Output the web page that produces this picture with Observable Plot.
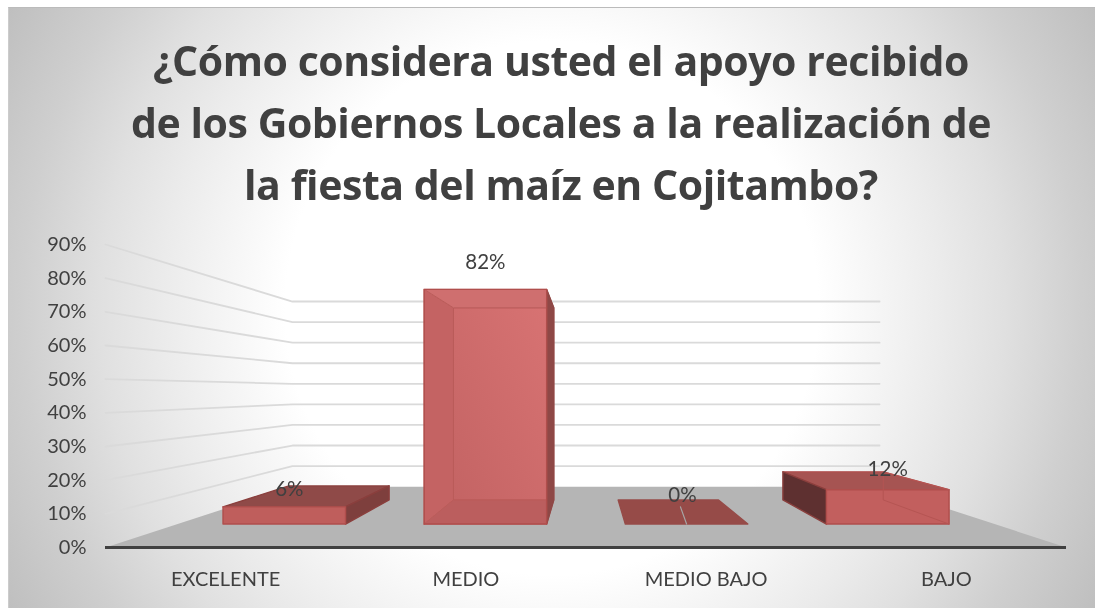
<!DOCTYPE html>
<html>
<head>
<meta charset="utf-8">
<script src="https://cdn.jsdelivr.net/npm/d3@7"></script>
<script src="https://cdn.jsdelivr.net/npm/@observablehq/plot@0.6"></script>
<style>
html,body{margin:0;padding:0;background:#fff;}
#chart{position:absolute;left:8px;top:7px;width:1087px;height:601px;box-sizing:border-box;border-top:1px solid #bbb;border-left:1px solid #ccc;
  background:radial-gradient(circle 620px at 50% 50%,#fff 43%,#ebebeb 63%,#e0e0e0 73%,#cfcfcf 85.5%,#bfbfbf 100%);overflow:hidden;}
#title{position:absolute;left:2px;top:21px;width:1100px;text-align:center;font:700 41px/62px "Open Sans",sans-serif;letter-spacing:-.43px;color:#404040;filter:blur(.5px);}
#plot{position:absolute;left:-9px;top:222px;width:1100px;height:382px;filter:blur(.4px);}
#plot svg{background:transparent;overflow:visible;}
</style>
</head>
<body>
<svg width="0" height="0" style="position:absolute"><defs>
  <linearGradient id="medioBack" x1="1" y1="0" x2="0" y2="1">
    <stop offset="0" stop-color="#d87373"/><stop offset="1" stop-color="#c46464"/>
  </linearGradient>
</defs></svg>
<div id="chart">
  <div id="title">¿Cómo considera usted el apoyo recibido<br>de los Gobiernos Locales a la realización de<br>la fiesta del maíz en Cojitambo?</div>
  <div id="plot"></div>
</div>
<script>
const categories = ["EXCELENTE", "MEDIO", "MEDIO BAJO", "BAJO"];
const values = [6, 82, 0, 12];
const labels = ["6%", "82%", "0%", "12%"];
const yTicks = [0, 10, 20, 30, 40, 50, 60, 70, 80, 90];
const labelLift = [6, 9.5, 10, 7];          // label height above the bar top, in value units
const labelNudge = [0.025, 0, -0.02, 0];    // sideways label shift, in category units

// simple perspective: every point shrinks towards a vanishing point in data space
const mid = 1.5, vanish = 46.46;
const wallBack = 0.611, barFront = 0.85, barBack = 0.696;
const half = 0.3, spread = 0.985;
const P = (u, v, s) => ({x: mid + (u - mid) * s, y: vanish + (v - vanish) * s});
const poly = (...pts) => [...pts, pts[0]];

function faces(i) {
  const c = mid + (i - mid) * spread, l = c - half, r = c + half, v = values[i];
  const fb = P(l, 0, barFront), fr = P(r, 0, barFront), ft = P(r, v, barFront), fl = P(l, v, barFront);
  const bb = P(l, 0, barBack), br = P(r, 0, barBack), bt = P(r, v, barBack), bl = P(l, v, barBack);
  return {
    back: poly(bb, br, bt, bl), floor: poly(fb, fr, br, bb),
    left: poly(fb, fl, bl, bb), right: poly(fr, ft, bt, br),
    top: poly(fl, ft, bt, bl), front: poly(fb, fr, ft, fl)
  };
}
const stroke = "#b04e4c";
const inner = "#bb5c5a";
const face = (pts, fill, extra = {}) => Plot.line(pts, {x: "x", y: "y", fill, stroke, strokeWidth: 1.4, ...extra});

const barMarks = [];
// EXCELENTE
{ const f = faces(0);
  barMarks.push(face(f.top, "#8f4a48", {stroke:"#8a3f3d"}), face(f.right, "#7e3f3d", {stroke:"#8a3f3d"}), face(f.front, "#bf5e5c")); }
// MEDIO
{ const f = faces(1);
  barMarks.push(face(f.back, "url(#medioBack)", {stroke: inner, strokeWidth: 1}),
                face(f.left, "#c46363", {stroke: inner, strokeWidth: 1}),
                face(f.top, "#cf6f6f", {stroke: inner, strokeWidth: 1}),
                face(f.floor, "#bb5e5e", {stroke: inner, strokeWidth: 1}),
                face(f.right, "#8e4846", {stroke:"#8e4846"}), face(f.front, "none")); }
// MEDIO BAJO
{ const f = faces(2);
  barMarks.push(face(f.top, "#964b48", {stroke:"#964b48"})); }
// BAJO
{ const f = faces(3);
  barMarks.push(face(f.top, "#a65452"), face(f.left, "#5e3030", {stroke:"#8a3f3d"}), face(f.front, "#c25f5e"),
                face(f.right, "none", {stroke:"#b55553", strokeWidth:1})); }

const floor = poly(P(-0.5,0,1), P(3.5,0,1), P(3.5,0,wallBack), P(-0.5,0,wallBack));
const gridV = yTicks.slice(1);
const wallLines = gridV.flatMap(v => [
  {id: v, ...P(-0.5, v, 1)}, {id: v, ...P(-0.5, v, wallBack)}, {id: v, ...P(3.5, v, wallBack)}
]);
const leader = [P(2 * spread + mid * (1 - spread) - 0.03, 6, barFront), P(2 * spread + mid * (1 - spread), 0, barFront)];

const chart = Plot.plot({
  width: 1100, height: 382,
  marginTop: 14, marginBottom: 65, marginLeft: 105, marginRight: 34,
  x: {domain: [-0.5, 3.5]},
  y: {domain: [0, 90]},
  style: {background: "transparent", maxWidth: "none"},
  marks: [
    Plot.line(floor, {x: "x", y: "y", fill: "#b5b5b5", stroke: "none"}),
    Plot.line(wallLines, {x: "x", y: "y", z: "id", stroke: "#dadada", strokeWidth: 1.8}),
    ...barMarks,
    Plot.line(leader, {x: "x", y: "y", stroke: "#a6a6a6", strokeWidth: 1.2}),
    Plot.ruleY([0], {x1: -0.5, x2: 3.5, stroke: "#404040", strokeWidth: 3}),
    Plot.axisY({ticks: yTicks, tickSize: 0, tickPadding: 19, tickFormat: d => d + "%", label: null,
      fontSize: 20, fontFamily: "Lato", fill: "#404040"}),
    Plot.axisX({ticks: [0, 1, 2, 3], tickSize: 0, tickPadding: 24, tickFormat: i => categories[i], label: null,
      fontSize: 20, fontFamily: "Lato", fill: "#404040"}),
    Plot.text(categories.map((_, i) => ({
        ...P(mid + (i - mid) * spread + labelNudge[i], values[i] + labelLift[i], barFront), t: labels[i]})),
      {x: "x", y: "y", text: "t", fontSize: 20.5, fontFamily: "Lato", fill: "#404040"})
  ]
});
document.getElementById("plot").append(chart);
</script>
</body>
</html>
